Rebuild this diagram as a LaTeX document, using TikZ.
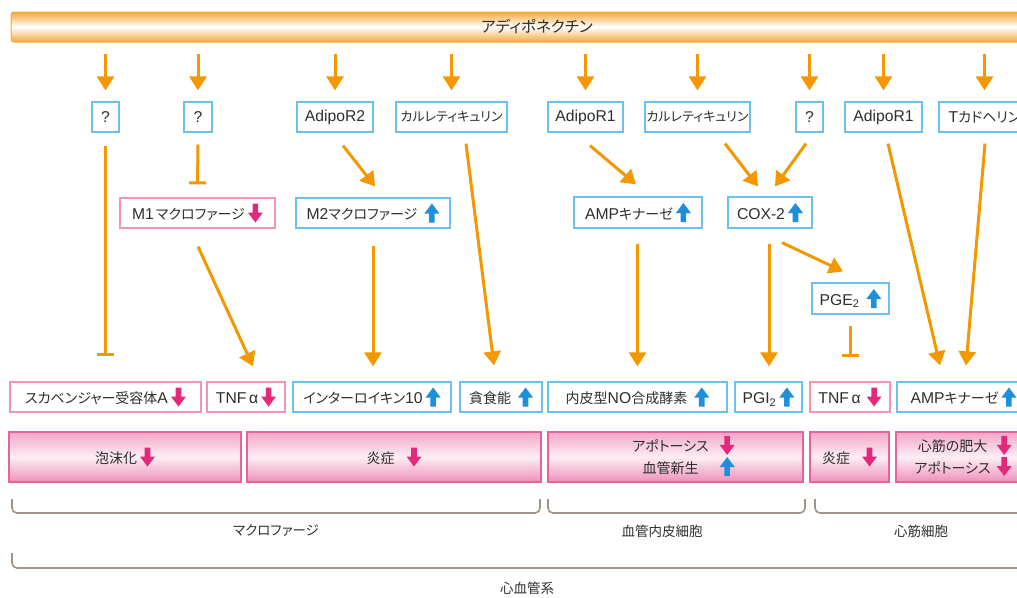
\documentclass[tikz,border=0pt]{standalone}
\usepackage{fontspec}
\setmainfont{Noto Sans CJK JP}[RawFeature=+palt]
\newfontfamily\latinfont[Scale=1.12]{Liberation Sans}
\newcommand\en[1]{{\latinfont #1}}
\usetikzlibrary{arrows.meta,calc}
\definecolor{org}{HTML}{F39800}
\definecolor{orgl}{HTML}{F5A93C}
\definecolor{bbord}{HTML}{6CC0EA}
\definecolor{blu}{HTML}{1E8FDA}
\definecolor{pbord}{HTML}{F294B2}
\definecolor{mag}{HTML}{E4287C}
\definecolor{pkedge}{HTML}{E8629C}
\definecolor{pkA}{HTML}{F2A6C8}
\definecolor{pkB}{HTML}{FDEEF4}
\definecolor{pkC}{HTML}{EE90BA}
\definecolor{txt}{HTML}{2E2E2E}
\definecolor{brc}{HTML}{A09488}
\newcommand\upglyph{\tikz[baseline={(0,3pt)},x=1pt,y=1pt]\fill[blu] (-7.5,9)--(0,19)--(7.5,9)--(2.8,9)--(2.8,0)--(-2.8,0)--(-2.8,9)--cycle;}
\newcommand\dnglyph{\tikz[baseline={(0,3pt)},x=1pt,y=1pt]\fill[mag] (-7.5,10)--(0,0)--(7.5,10)--(2.8,10)--(2.8,19)--(-2.8,19)--(-2.8,10)--cycle;}
\newcommand\UA{\hspace{3pt}\upglyph}
\newcommand\DA{\hspace{3pt}\dnglyph}
\tikzset{
  bb/.style n args={4}{minimum width={#2-#1}, minimum height={#4-#3}, at={({(#1+#2)/2},{(#3+#4)/2})}},
  bbox/.style={draw=bbord, line width=1.2pt, fill=white, text=txt, inner sep=0pt},
  pbox/.style={draw=pbord, line width=1.2pt, fill=white, text=txt, inner sep=0pt},
  pk/.style={draw=pkedge, line width=1.5pt, top color=pkA, bottom color=pkC, middle color=pkB, text=txt, inner sep=0pt},
  topbar/.style={draw=orgl, line width=1pt, rounded corners=3pt, top color=orgl, bottom color=orgl, middle color=white, text=txt, inner sep=0pt, font=\fontsize{15.5}{18}\selectfont},
  arr/.style={draw=org, line width=3pt, -{Triangle[width=17pt,length=14pt]}},
  inh/.style={draw=org, line width=3pt, -{Bar[width=17pt]}},
  brace/.style={draw=brc, line width=1.6pt, rounded corners=5pt},
  lbl/.style={text=txt, font=\fontsize{13.5}{16}\selectfont, inner sep=0pt},
  narrow/.style={font=\fontsize{13}{16}\selectfont}
}
\begin{document}
\begin{tikzpicture}[x=1pt,y=-1pt,font=\fontsize{14}{17}\selectfont]
\useasboundingbox (0,0) rectangle (1017,597);
\clip (0,0) rectangle (1017,597);
% top bar
\node[topbar, bb={11}{1063}{12}{42}] (bar) {アディポネクチン};
% top row
\node[bbox, bb={92}{119}{102}{132}] (q1) {\en{?}};
\node[bbox, bb={184}{212}{102}{132}] (q2) {\en{?}};
\node[bbox, bb={297}{373}{102}{132}] (r2) {\en{AdipoR2}};
\node[bbox, narrow, bb={396}{507}{102}{132}] (cal1) {カルレティキュリン};
\node[bbox, bb={548}{623}{102}{132}] (r1) {\en{AdipoR1}};
\node[bbox, narrow, bb={645}{750}{102}{132}] (cal2) {カルレティキュリン};
\node[bbox, bb={796}{823}{102}{132}] (q3) {\en{?}};
\node[bbox, bb={845}{922}{102}{132}] (r1b) {\en{AdipoR1}};
\node[bbox, bb={939}{1030}{102}{132}] (tcad) {\en{T}カドヘリン};
% middle row
\node[pbox, bb={120}{275}{198}{228}] (m1) {\en{M1}\hspace{2pt}マクロファージ\DA};
\node[bbox, bb={296}{450}{198}{228}] (m2) {\en{M2}マクロファージ\hspace{4pt}\UA};
\node[bbox, bb={574}{702}{197}{228}] (ampk1) {\en{AMP}キナーゼ\UA};
\node[bbox, bb={728}{812}{197}{228}] (cox) {\en{COX-2}\UA};
\node[bbox, bb={812}{889}{283}{314}] (pge) {\en{PGE\textsubscript{2}}\hspace{4pt}\UA};
% bottom row
\node[pbox, bb={10}{201}{382}{412}] (scav) {スカベンジャー受容体\en{A}\DA};
\node[pbox, bb={207}{285}{382}{412}] (tnf1) {\en{TNF\,α}\DA};
\node[bbox, bb={293}{451}{382}{412}] (il10) {インターロイキン\en{10}\UA};
\node[bbox, bb={460}{542}{382}{412}] (phag) {貪食能\hspace{4pt}\UA};
\node[bbox, bb={548}{727}{382}{412}] (enos) {内皮型\en{NO}合成酵素\hspace{4pt}\UA};
\node[bbox, bb={735}{802}{382}{412}] (pgi) {\en{PGI\textsubscript{2}}\UA};
\node[pbox, bb={810}{890}{382}{412}] (tnf2) {\en{TNF\,α}\hspace{3pt}\DA};
\node[bbox, bb={897}{1030}{382}{412}] (ampk2) {\en{AMP}キナーゼ\UA};
% pink outcome boxes
\node[pk, bb={9}{241}{432}{482}] (foam) {泡沫化\DA};
\node[pk, bb={247}{541}{432}{482}] (inf1) {炎症\hspace{9pt}\DA};
\node[pk, bb={548}{803}{432}{482}] (apo) {\hspace*{16pt}\begin{tabular}{@{}c@{\hspace{11pt}}c@{}}アポトーシス & \dnglyph\\ 血管新生 & \upglyph\end{tabular}};
\node[pk, bb={810}{889}{432}{482}] (inf2) {炎症\hspace{12pt}\dnglyph};
\node[pk, bb={896}{1030}{432}{482}] (heart) {\begin{tabular}{@{}c@{\hspace{6pt}}c@{}}心筋の肥大 & \dnglyph\\ アポトーシス & \dnglyph\end{tabular}};
% arrows from the top bar
\foreach \n in {q1,q2,r2,cal1,r1,cal2,q3,r1b,tcad}
  \draw[arr] ($(\n.north |- bar.south)+(0,11)$) -- ($(\n.north)+(0,-11)$);
% top row connectors
\draw[inh] ($(q1.south)+(0,13)$) -- ($(scav.north)+(0,-25)$);
\draw[inh] ($(q2.south)+(0,12)$) -- ($(m1.north)+(0,-13)$);
\draw[arr] ($(r2.south)+(8,13)$) -- ($(m2.north)+(2,-11)$);
\draw[arr] ($(cal1.south)+(14.5,11)$) -- ($(phag.north)+(-7,-16)$);
\draw[arr] ($(r1.south)+(4.5,13)$) -- ($(ampk1.north)+(-2,-12)$);
\draw[arr] ($(cal2.south)+(27.5,11)$) -- ($(cox.north)+(-12,-10)$);
\draw[arr] ($(q3.south)+(-3.5,11)$) -- ($(cox.north)+(5,-10)$);
\draw[arr] ($(r1b.south)+(4.5,11)$) -- ($(ampk2.north)+(-23.5,-16)$);
\draw[arr] ($(tcad.south)+(0.5,11)$) -- ($(ampk2.north)+(2.5,-16)$);
% middle row connectors
\draw[arr] ($(m1.south)+(0.5,18)$) -- ($(tnf1.north)+(7,-15)$);
\draw[arr] ($(m2.south)+(0,17)$) -- ($(m2.south |- il10.north)+(0,-15)$);
\draw[arr] ($(ampk1.south)+(-0.5,15)$) -- ($(ampk1.south |- enos.north)+(-0.5,-15)$);
\draw[arr] ($(cox.south)+(-1,15)$) -- ($(cox.south |- pgi.north)+(-1,-15)$);
\draw[arr] ($(cox.south)+(12,14)$) -- ($(pge.north)+(-7.5,-11)$);
\draw[inh] ($(pge.south)+(0,11)$) -- ($(pge.south |- tnf2.north)+(0,-24)$);
% braces
\draw[brace] (12,499) -- (12,513) -- (540,513) -- (540,499);
\draw[brace] (548,499) -- (548,513) -- (805,513) -- (805,499);
\draw[brace] (815,499) -- (815,513) -- (1030,513) -- (1030,499);
\draw[brace] (12,553) -- (12,568) -- (1030,568) -- (1030,553);
\node[lbl] (lmac) at (276,531) {マクロファージ};
\node[lbl] (lend) at (662,531) {血管内皮細胞};
\node[lbl] (lcar) at (921,531) {心筋細胞};
\node[lbl] (lcv) at (527,588) {心血管系};
\end{tikzpicture}
\end{document}
